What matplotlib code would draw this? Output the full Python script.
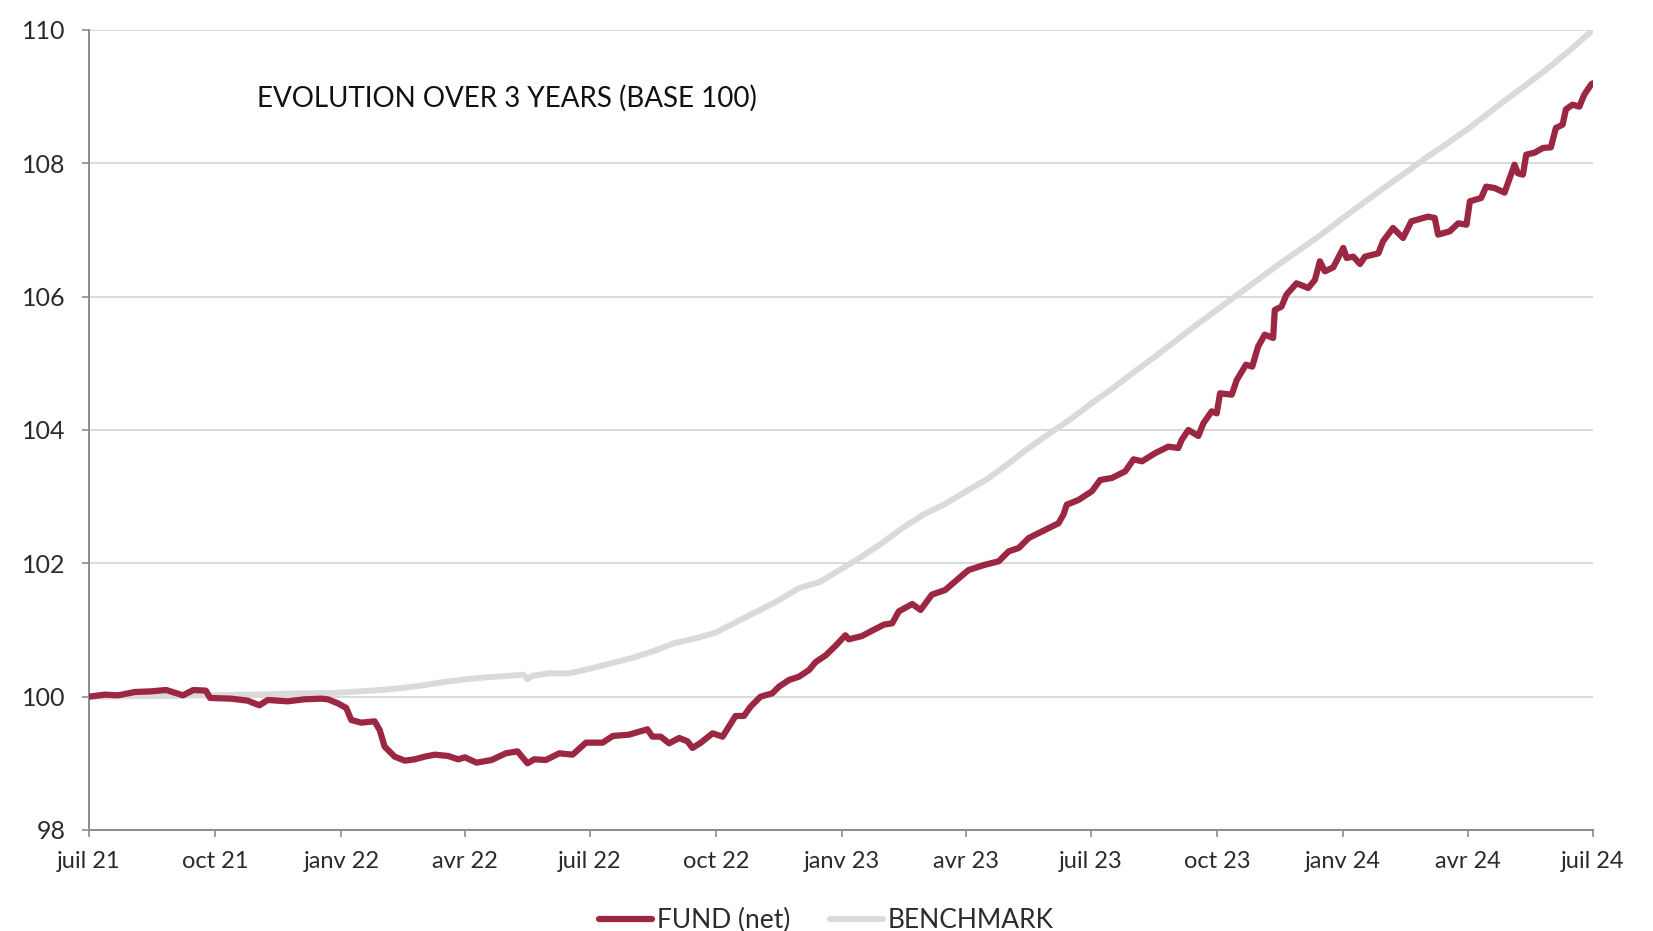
import numpy as np
import pandas as pd
import matplotlib
matplotlib.use("Agg")
import matplotlib.pyplot as plt

# fund (net), months since 1 July 2021 -> base-100 index
fund_months = [
    0.0, 0.38, 0.7, 1.1, 1.5, 1.85, 2.25, 2.5, 2.8, 2.9, 3.4, 3.8, 3.96, 4.08,
    4.28, 4.76, 5.16, 5.56, 5.72, 5.96, 6.16, 6.28, 6.52, 6.84, 6.96, 7.08,
    7.32, 7.56, 7.8, 8.04, 8.28, 8.6, 8.84, 9.0, 9.28, 9.64, 9.98, 10.26,
    10.5, 10.66, 10.94, 11.26, 11.58, 11.9, 12.3, 12.54, 12.93, 13.37, 13.49,
    13.69, 13.89, 14.13, 14.33, 14.45, 14.65, 14.93, 15.17, 15.48, 15.68,
    15.84, 16.08, 16.36, 16.52, 16.76, 17.0, 17.24, 17.4, 17.64, 17.87,
    18.11, 18.19, 18.51, 18.75, 19.03, 19.23, 19.39, 19.71, 19.91, 20.18,
    20.5, 20.74, 21.06, 21.46, 21.78, 22.02, 22.26, 22.5, 22.89, 23.21,
    23.33, 23.41, 23.69, 24.01, 24.21, 24.49, 24.81, 25.01, 25.21, 25.52,
    25.84, 26.08, 26.16, 26.32, 26.56, 26.68, 26.88, 27.0, 27.08, 27.36,
    27.48, 27.7, 27.85, 27.99, 28.15, 28.35, 28.39, 28.55, 28.67, 28.91,
    29.19, 29.35, 29.47, 29.59, 29.79, 30.03, 30.11, 30.27, 30.43, 30.55,
    30.87, 30.98, 31.22, 31.46, 31.66, 32.06, 32.22, 32.3, 32.58, 32.78,
    32.98, 33.06, 33.33, 33.45, 33.65, 33.89, 34.13, 34.21, 34.33, 34.41,
    34.61, 34.81, 35.0, 35.12, 35.28, 35.36, 35.52, 35.68, 35.8, 35.96, 36.0,
]
fund_values = [
    100.00, 100.03, 100.02, 100.07, 100.08, 100.10, 100.02, 100.10, 100.09,
    99.98, 99.97, 99.94, 99.90, 99.87, 99.95, 99.93, 99.96, 99.97, 99.96,
    99.90, 99.83, 99.65, 99.61, 99.63, 99.50, 99.25, 99.10, 99.04, 99.06,
    99.10, 99.13, 99.11, 99.06, 99.09, 99.01, 99.05, 99.15, 99.18, 99.00,
    99.06, 99.05, 99.15, 99.13, 99.31, 99.31, 99.41, 99.43, 99.51, 99.40,
    99.40, 99.30, 99.38, 99.33, 99.23, 99.31, 99.45, 99.40, 99.71, 99.71,
    99.85, 100.00, 100.05, 100.15, 100.25, 100.30, 100.40, 100.52, 100.62,
    100.76, 100.92, 100.86, 100.91, 100.99, 101.08, 101.10, 101.28, 101.39,
    101.30, 101.53, 101.60, 101.73, 101.90, 101.98, 102.03, 102.18, 102.23,
    102.38, 102.50, 102.60, 102.73, 102.88, 102.95, 103.08, 103.25, 103.28,
    103.38, 103.56, 103.53, 103.65, 103.75, 103.73, 103.85, 104.00, 103.91,
    104.10, 104.28, 104.25, 104.55, 104.53, 104.75, 104.98, 104.95, 105.25,
    105.43, 105.38, 105.80, 105.85, 106.03, 106.20, 106.13, 106.25, 106.53,
    106.38, 106.44, 106.73, 106.58, 106.60, 106.49, 106.60, 106.65, 106.83,
    107.03, 106.88, 107.13, 107.20, 107.18, 106.93, 106.98, 107.10, 107.08,
    107.43, 107.48, 107.65, 107.63, 107.56, 107.98, 107.85, 107.83, 108.13,
    108.16, 108.23, 108.24, 108.53, 108.58, 108.81, 108.88, 108.85, 109.03,
    109.18, 109.20,
]

# benchmark, same time base
bench_months = [
    0, 0.5, 1, 1.5, 2, 2.5, 3, 3.5, 4, 4.5, 5, 5.5, 6, 6.5, 7, 7.5, 8, 8.5,
    9, 9.5, 10, 10.4, 10.5, 10.6, 11, 11.5, 12, 12.5, 13, 13.5, 14, 14.5, 15,
    15.5, 16, 16.5, 17, 17.5, 18, 18.5, 19, 19.5, 20, 20.5, 21, 21.5, 22,
    22.5, 23, 23.5, 24, 24.5, 25, 25.5, 26, 26.5, 27, 27.5, 28, 28.5, 29,
    29.5, 30, 30.5, 31, 31.5, 32, 32.5, 33, 33.5, 34, 34.5, 35, 35.5, 36,
]
bench_values = [
    100.00, 100.00, 100.01, 100.01, 100.01, 100.02, 100.02, 100.03, 100.03,
    100.04, 100.05, 100.05, 100.06, 100.08, 100.10, 100.13, 100.17, 100.22,
    100.26, 100.29, 100.31, 100.33, 100.26, 100.31, 100.35, 100.35, 100.42,
    100.50, 100.58, 100.68, 100.80, 100.87, 100.96, 101.12, 101.28, 101.44,
    101.63, 101.72, 101.91, 102.10, 102.31, 102.54, 102.74, 102.89, 103.08,
    103.26, 103.49, 103.73, 103.95, 104.16, 104.40, 104.62, 104.86, 105.09,
    105.33, 105.57, 105.80, 106.03, 106.26, 106.49, 106.71, 106.93, 107.17,
    107.40, 107.63, 107.85, 108.08, 108.29, 108.51, 108.75, 108.99, 109.22,
    109.46, 109.72, 110.00,
]

tick_dates = pd.date_range("2021-07-01", "2024-07-01", freq="QS-JAN")
tick_labels = ["juil 21", "oct 21", "janv 22", "avr 22", "juil 22", "oct 22",
               "janv 23", "avr 23", "juil 23", "oct 23", "janv 24", "avr 24",
               "juil 24"]
y_ticks = [98, 100, 102, 104, 106, 108, 110]

START = pd.Timestamp("2021-07-01")


def to_dates(months):
    return START + pd.to_timedelta(np.asarray(months) * 30.4375, unit="D")


FUND_COLOR = "#9b2743"
BENCH_COLOR = "#dadada"
AXIS_COLOR = "#8c8c8c"
TEXT_COLOR = "#2b2b2b"

plt.rcParams["font.family"] = ["Lato", "DejaVu Sans"]

fig = plt.figure(figsize=(16.53, 9.31), dpi=100)
ax = fig.add_axes([0.0538, 0.1085, 0.9099, 0.8593])

ax.plot(to_dates(fund_months), fund_values, color=FUND_COLOR, lw=4.5,
        solid_capstyle="round", solid_joinstyle="round", label="FUND (net)",
        zorder=3)
ax.plot(to_dates(bench_months), bench_values, color=BENCH_COLOR, lw=4.3,
        solid_capstyle="round", solid_joinstyle="round", label="BENCHMARK",
        zorder=2)

ax.set_ylim(98, 110)
ax.set_xlim(tick_dates[0], tick_dates[-1])
ax.set_yticks(y_ticks)
ax.set_yticklabels([str(v) for v in y_ticks])
ax.set_xticks(tick_dates)
ax.set_xticklabels(tick_labels)

ax.grid(axis="y", color="#d9d9d9", lw=1.4)
ax.set_axisbelow(True)
for side in ("top", "right"):
    ax.spines[side].set_visible(False)
for side in ("left", "bottom"):
    ax.spines[side].set_color(AXIS_COLOR)
    ax.spines[side].set_linewidth(1.4)

ax.tick_params(axis="both", colors=AXIS_COLOR, length=5, width=1.2)
ax.tick_params(axis="x", pad=10, labelsize=17, labelcolor=TEXT_COLOR)
ax.tick_params(axis="y", pad=12, labelsize=18, labelcolor=TEXT_COLOR)

ax.text(0.112, 0.915, "EVOLUTION OVER 3 YEARS (BASE 100)", transform=ax.transAxes,
        fontsize=20, color="#111111", ha="left", va="center")

fig.legend(loc="lower center", bbox_to_anchor=(0.5, -0.028), ncol=2,
           frameon=False, handlelength=2.0, handletextpad=0.2,
           columnspacing=1.5, prop={"size": 19}, labelcolor=TEXT_COLOR)

fig.savefig("out.png", dpi=100)
